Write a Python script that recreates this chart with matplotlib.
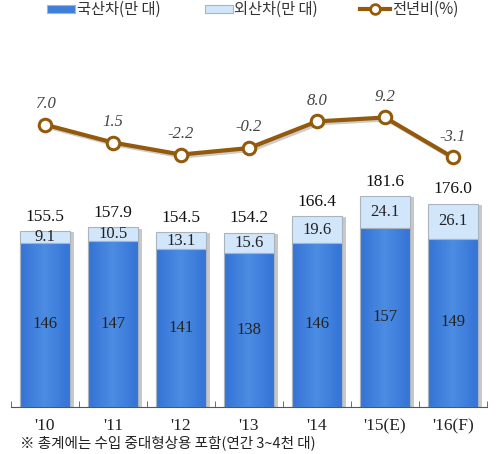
import matplotlib
matplotlib.use("Agg")
import matplotlib.pyplot as plt
from matplotlib.patches import Rectangle
from matplotlib.lines import Line2D
from matplotlib.colors import LinearSegmentedColormap
import numpy as np

plt.rcParams['font.family'] = ['Noto Sans CJK KR', 'DejaVu Sans']

years = ["'10", "'11", "'12", "'13", "'14", "'15(E)", "'16(F)"]
domestic = [146, 147, 141, 138, 146, 157, 149]
domestic_lbl = ["146", "147", "141", "138", "146", "157", "149"]
foreign = [9.1, 10.5, 13.1, 15.6, 19.6, 24.1, 26.1]
totals = [155.5, 157.9, 154.5, 154.2, 166.4, 181.6, 176.0]
growth = [7.0, 1.5, -2.2, -0.2, 8.0, 9.2, -3.1]

SERIF = ['Liberation Serif', 'DejaVu Serif']
blue = '#3f7fdc'
light = '#d2e6fb'
edge = '#aab4be'
brown = '#935a0c'

fig = plt.figure(figsize=(5, 4.54), dpi=100)
ax = fig.add_axes([11/500, 47/454, 476/500, 377/454])
x = np.arange(len(years))
w = 0.735
bottom0 = 23.5

# shadows
for i in x:
    ax.bar(i + 0.06, totals[i] - bottom0, w, bottom=bottom0 - 1.5, color='#c8c8c8',
           zorder=1, linewidth=0)

dom_bars = ax.bar(x, np.array(domestic) - bottom0, w, bottom=bottom0, color=blue,
                  edgecolor=edge, linewidth=0.8, zorder=2)
ax.bar(x, foreign, w, bottom=domestic, color=light, edgecolor=edge,
       linewidth=0.8, zorder=2)

# soft gradient inside the domestic bars
cmap = LinearSegmentedColormap.from_list('g', ['#3574d6', '#4c8ce2', '#3574d6'])
grad = np.linspace(0, 1, 64).reshape(1, -1)
for i, b in enumerate(dom_bars):
    im = ax.imshow(grad, cmap=cmap, aspect='auto', zorder=2.1,
                   extent=[i - w/2, i + w/2, bottom0, domestic[i]])
    im.set_clip_path(b)
ax.bar(x, np.array(domestic) - bottom0, w, bottom=bottom0, fill=False,
       edgecolor=edge, linewidth=0.8, zorder=2.2)

for i in x:
    ax.text(i, totals[i] + 10, f"{totals[i]:.1f}", ha='center', va='center',
            fontsize=12.5, family=SERIF, color='#111111')
    ax.text(i, domestic[i] + foreign[i] / 2, f"{foreign[i]:.1f}", ha='center',
            va='center', fontsize=12, family=SERIF, color='#222222', zorder=3)
    ax.text(i, (domestic[i] + bottom0) / 2 + 0.5, domestic_lbl[i], ha='center',
            va='center', fontsize=12, family=SERIF, color='#222222', zorder=3)

ax.set_xlim(-0.5, 6.5)
ax.set_ylim(bottom0, bottom0 + 377/1.341)
for s in ['top', 'left', 'right']:
    ax.spines[s].set_visible(False)
ax.spines['bottom'].set_color('#555555')
ax.set_yticks([])
ax.set_xticks(x)
ax.set_xticklabels(years, family=SERIF, fontsize=12.5, color='#222222')
ax.tick_params(axis='x', which='major', length=0, pad=8)
ax.set_xticks(np.arange(-0.5, 7, 1), minor=True)
ax.tick_params(axis='x', which='minor', direction='in', length=4, color='#555555')

ax2 = ax.twinx()
ax2.set_ylim((147.4 - 407) / 3.25, (147.4 - 30) / 3.25)
ax2.axis('off')
ax2.plot(x + 0.03, np.array(growth) - 0.6, color='#cccccc', lw=3, zorder=1)
ax2.plot(x, growth, color=brown, lw=3, marker='o', markersize=9,
         markerfacecolor='white', markeredgecolor=brown, markeredgewidth=2.2, zorder=3)
for i in x:
    ax2.text(i, growth[i] + 6.4, f"{growth[i]:.1f}", ha='center', va='center',
             fontsize=12, family=SERIF, style='italic', color='#444444')

# legend along the top edge
H = 454
ly = 1 - 9/H
fig.patches.append(Rectangle((47/500, 1 - 12.5/H), 28/500, 7/H, transform=fig.transFigure,
                             facecolor=blue, edgecolor=edge, lw=0.8))
fig.text(77/500, ly, "국산차(만 대)", fontsize=11, va='center', color='#333333')
fig.patches.append(Rectangle((205/500, 1 - 12.5/H), 28/500, 7/H, transform=fig.transFigure,
                             facecolor=light, edgecolor=edge, lw=0.8))
fig.text(234/500, ly, "외산차(만 대)", fontsize=11, va='center', color='#333333')
fig.lines.append(Line2D([360/500, 390/500], [ly, ly], transform=fig.transFigure,
                        color=brown, lw=3))
fig.lines.append(Line2D([375/500], [ly], transform=fig.transFigure, color=brown,
                        marker='o', markersize=7, markerfacecolor='white',
                        markeredgecolor=brown, markeredgewidth=2))
fig.text(392/500, ly, "전년비(%)", fontsize=11, va='center', color='#333333')

fig.text(20/500, 1 - 443/H, "※ 총계에는 수입 중대형상용 포함(연간 3~4천 대)",
         fontsize=10.5, va='center', color='#222222')

fig.savefig("out.png", dpi=100)
